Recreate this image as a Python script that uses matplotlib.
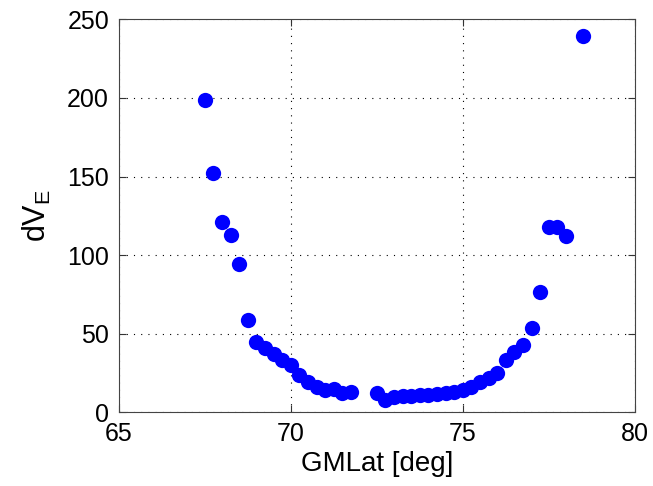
import matplotlib
matplotlib.use("Agg")
import matplotlib.pyplot as plt

gmlat = [67.5, 67.75, 68.0, 68.25, 68.5, 68.75, 69.0, 69.25, 69.5, 69.75,
         70.0, 70.25, 70.5, 70.75, 71.0, 71.25, 71.5, 71.75,
         72.5, 72.75, 73.0, 73.25, 73.5, 73.75, 74.0, 74.25, 74.5, 74.75, 75.0,
         75.25, 75.5, 75.75, 76.0, 76.25, 76.5, 76.75, 77.0, 77.25,
         77.5, 77.75, 78.0, 78.5]
dve = [198.8, 152.2, 121, 112.5, 94.4, 58.7, 44.8, 41, 37, 33,
       30, 23.6, 19.3, 16, 14, 15, 12, 12.5,
       12, 7.7, 9.5, 10, 10.5, 10.8, 11, 11.5, 12, 13, 14,
       16, 19.3, 21.5, 24.7, 33, 38.5, 42.7, 53.4, 76.3,
       118, 118, 112, 239.6]

xticks = [65, 70, 75, 80]
yticks = [0, 50, 100, 150, 200, 250]

plt.rcParams['font.family'] = ['Liberation Sans', 'DejaVu Sans']
fig = plt.figure(figsize=(6.53, 4.86), dpi=100)
ax = fig.add_axes([0.182, 0.152, 0.790, 0.808])
ax.plot(gmlat, dve, 'o', color=(0, 0, 1), markersize=11, markeredgewidth=0)
ax.set_xlim(65, 80)
ax.set_ylim(0, 250)
ax.set_xticks(xticks)
ax.set_yticks(yticks)
ax.grid(True, color='black', linestyle=(0, (1, 5.5)), linewidth=0.8)
ax.tick_params(direction='in', top=True, right=True, labelsize=18, length=5, color='#333333', pad=7)
for s in ax.spines.values():
    s.set_color('#444444')
ax.set_xlabel('GMLat [deg]', fontsize=20, labelpad=4)
ax.set_ylabel('$\\mathregular{dV_E}$', fontsize=22, labelpad=10)
fig.savefig('out.png', dpi=100)
